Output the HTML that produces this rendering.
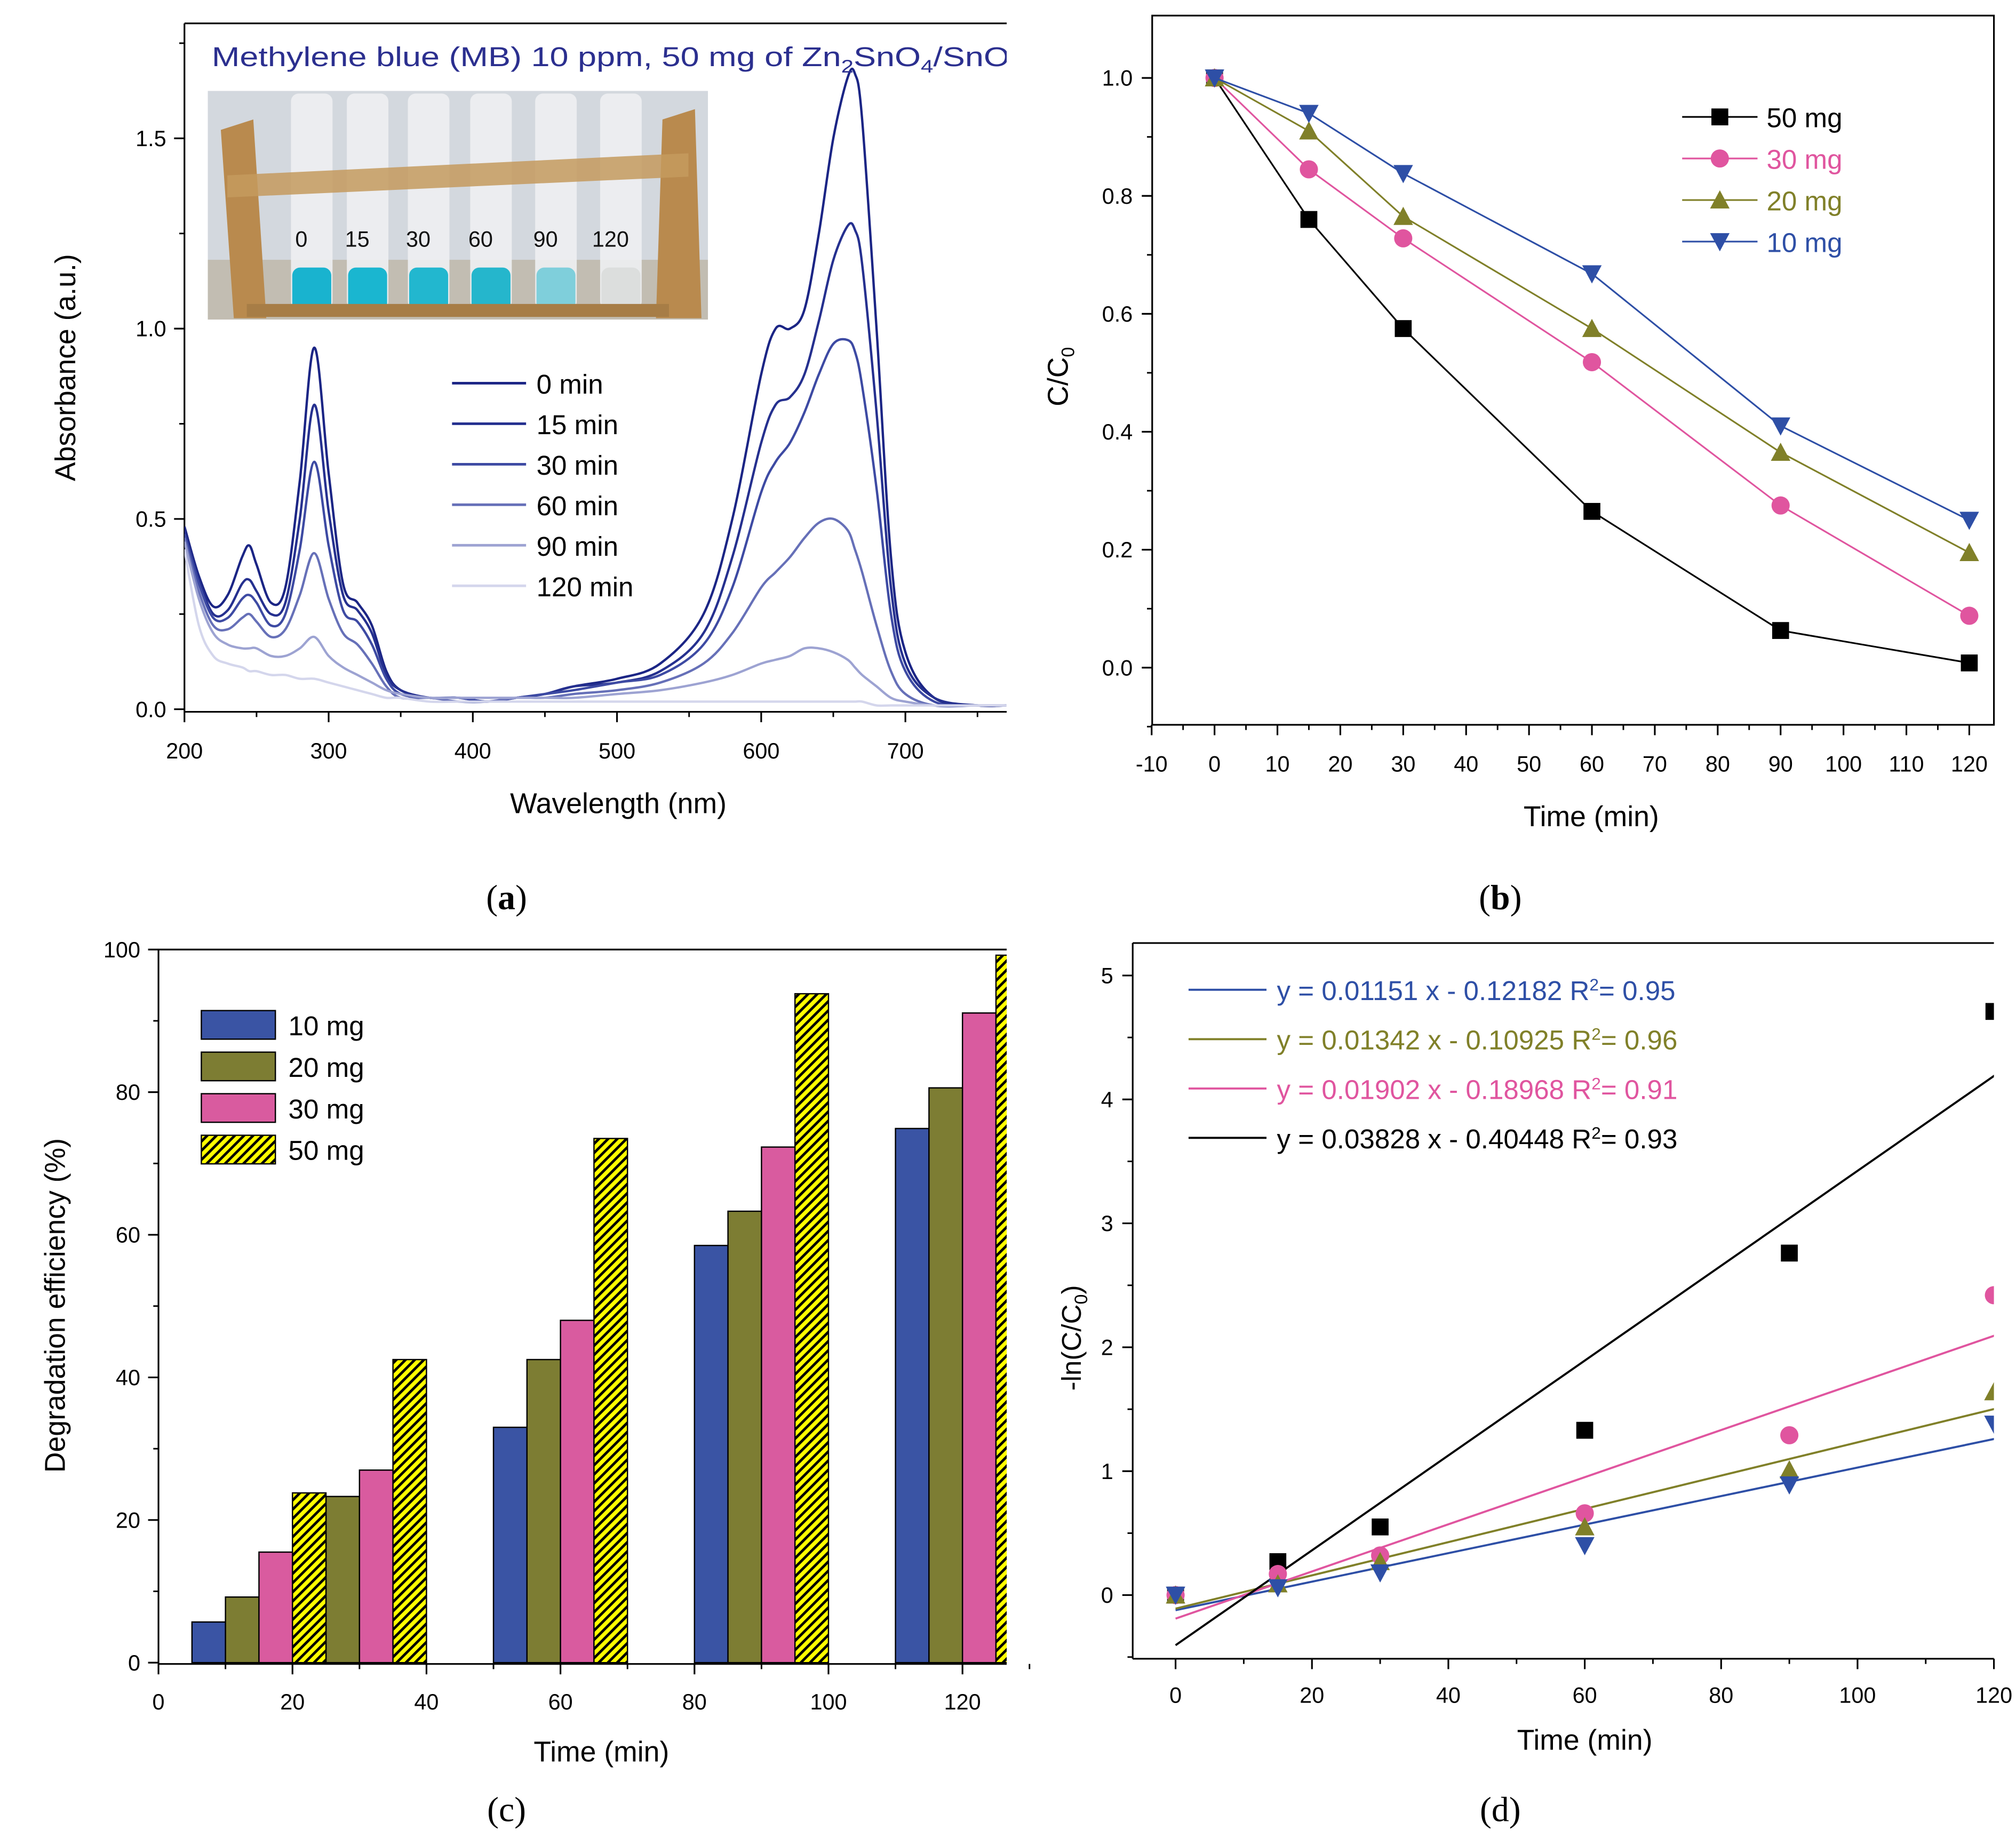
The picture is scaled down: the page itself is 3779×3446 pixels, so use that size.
<!DOCTYPE html>
<html><head><meta charset="utf-8">
<style>
html,body{margin:0;padding:0;background:#fff;}
svg{display:block;}
text{font-family:"Liberation Sans",Arial,sans-serif;}
.serif{font-family:"Liberation Serif",serif;}
</style></head>
<body>
<svg id="fig" xmlns="http://www.w3.org/2000/svg" width="3779" height="3446" viewBox="0 0 1552 1415" preserveAspectRatio="none">
<defs>
<pattern id="hatch" patternUnits="userSpaceOnUse" width="5" height="5" patternTransform="rotate(45)">
<rect width="5" height="5" fill="#ffff00"/><rect width="2" height="5" fill="#000"/>
</pattern>
<clipPath id="clipA"><rect x="142" y="18" width="633" height="530"/></clipPath>
<clipPath id="clipC"><rect x="122" y="731" width="653" height="550"/></clipPath>
<clipPath id="clipD"><rect x="872" y="726" width="663" height="551"/></clipPath>
<clipPath id="clipTitle"><rect x="142" y="18" width="633" height="60"/></clipPath>
</defs>
<g id="panelA"></g>
<g id="panelB"></g>
<g id="panelC"></g>
<g id="panelD"></g>
<text class="serif" x="390" y="700" font-size="27" text-anchor="middle">(<tspan font-weight="bold">a</tspan>)</text>
<text class="serif" x="1155" y="700" font-size="27" text-anchor="middle">(<tspan font-weight="bold">b</tspan>)</text>
<text class="serif" x="390" y="1402" font-size="27" text-anchor="middle">(c)</text>
<text class="serif" x="1155" y="1402" font-size="27" text-anchor="middle">(d)</text>
</svg>
<script>
// ---------- Panel A data ----------
const wl = [200,210,220,230,240,245,250,260,270,280,290,300,310,320,330,340,350,370,390,410,430,450,470,500,530,560,580,600,610,620,630,640,650,660,665,670,680,690,700,720,750,770];
const abs0 = [0.48,0.35,0.27,0.30,0.40,0.43,0.38,0.28,0.32,0.60,0.95,0.62,0.33,0.28,0.22,0.10,0.05,0.03,0.03,0.02,0.03,0.04,0.06,0.08,0.12,0.25,0.50,0.88,1.00,1.00,1.05,1.25,1.50,1.66,1.67,1.55,1.00,0.40,0.15,0.03,0.01,0.01];
const abs15 = [0.47,0.34,0.25,0.26,0.33,0.34,0.31,0.25,0.28,0.50,0.80,0.52,0.30,0.26,0.20,0.09,0.05,0.03,0.03,0.02,0.03,0.04,0.06,0.07,0.10,0.20,0.40,0.70,0.80,0.82,0.88,1.02,1.18,1.27,1.26,1.17,0.78,0.32,0.12,0.03,0.01,0.01];
const abs30 = [0.46,0.33,0.24,0.24,0.29,0.30,0.28,0.22,0.25,0.42,0.65,0.43,0.26,0.23,0.17,0.08,0.04,0.03,0.03,0.02,0.03,0.04,0.05,0.07,0.09,0.17,0.32,0.57,0.65,0.70,0.78,0.88,0.96,0.97,0.94,0.85,0.58,0.25,0.10,0.02,0.01,0.01];
const abs60 = [0.45,0.31,0.22,0.21,0.24,0.25,0.23,0.19,0.21,0.30,0.41,0.29,0.20,0.17,0.12,0.06,0.03,0.03,0.02,0.02,0.03,0.03,0.04,0.05,0.07,0.12,0.20,0.32,0.36,0.40,0.45,0.49,0.50,0.47,0.42,0.36,0.22,0.10,0.04,0.01,0.01,0.01];
const abs90 = [0.44,0.29,0.20,0.17,0.16,0.16,0.16,0.14,0.14,0.16,0.19,0.14,0.11,0.09,0.07,0.05,0.04,0.03,0.03,0.03,0.03,0.03,0.03,0.04,0.05,0.07,0.09,0.12,0.13,0.14,0.16,0.16,0.15,0.13,0.11,0.09,0.06,0.03,0.02,0.01,0.01,0.01];
const abs120 = [0.42,0.22,0.14,0.12,0.11,0.10,0.10,0.09,0.09,0.08,0.08,0.07,0.06,0.05,0.04,0.03,0.03,0.02,0.02,0.02,0.02,0.02,0.02,0.02,0.02,0.02,0.02,0.02,0.02,0.02,0.02,0.02,0.02,0.02,0.02,0.02,0.01,0.01,0.01,0.01,0.01,0.01];
const specLabels = ["0 min","15 min","30 min","60 min","90 min","120 min"];
const aXTicks = [200,300,400,500,600,700];
const aYTicks = [0.0,0.5,1.0,1.5];
const tubeLabels = ["0","15","30","60","90","120"];

// ---------- Panel B data ----------
const timesB = [0,15,30,60,90,120];
const cc50 = [1,0.76,0.575,0.265,0.063,0.008];
const cc30 = [1,0.845,0.728,0.518,0.275,0.088];
const cc20 = [1,0.91,0.765,0.575,0.365,0.195];
const cc10 = [1,0.94,0.838,0.668,0.41,0.25];
const bXTicks = [-10,0,10,20,30,40,50,60,70,80,90,100,110,120];
const bYTicks = [0.0,0.2,0.4,0.6,0.8,1.0];

// ---------- Panel C data ----------
const timesC = [15,30,60,90,120];
const eff10 = [5.7,16.2,33.0,58.5,74.9];
const eff20 = [9.2,23.3,42.5,63.3,80.6];
const eff30 = [15.5,27.0,48.0,72.3,91.1];
const eff50 = [23.8,42.5,73.5,93.8,99.2];
const cXTicks = [0,20,40,60,80,100,120];
const cYTicks = [0,20,40,60,80,100];

// ---------- Panel D data ----------
const timesD = [0,15,30,60,90,120];
const ln50 = [0,0.27,0.55,1.33,2.76,4.71];
const ln30 = [0,0.17,0.32,0.66,1.29,2.42];
const ln20 = [0,0.09,0.27,0.55,1.01,1.64];
const ln10 = [0,0.06,0.18,0.40,0.89,1.38];
const fitSlopes = [0.01151,0.01342,0.01902,0.03828];
const fitIntercepts = [-0.12182,-0.10925,-0.18968,-0.40448];
const fitR2 = ["0.95","0.96","0.91","0.93"];
const dXTicks = [0,20,40,60,80,100,120];
const dYTicks = [0,1,2,3,4,5];

const NS = "http://www.w3.org/2000/svg";
function mk(parent, tag, attrs, txt){
  const e = document.createElementNS(NS, tag);
  for (const k in attrs) e.setAttribute(k, attrs[k]);
  if (txt !== undefined) e.textContent = txt;
  parent.appendChild(e); return e;
}
function smooth(pts){
  let d = "M"+pts[0][0].toFixed(2)+","+pts[0][1].toFixed(2);
  for (let i=0;i<pts.length-1;i++){
    const p0=pts[Math.max(0,i-1)],p1=pts[i],p2=pts[i+1],p3=pts[Math.min(pts.length-1,i+2)];
    const c1=[p1[0]+(p2[0]-p0[0])/6,p1[1]+(p2[1]-p0[1])/6];
    const c2=[p2[0]-(p3[0]-p1[0])/6,p2[1]-(p3[1]-p1[1])/6];
    d+=" C"+c1[0].toFixed(2)+","+c1[1].toFixed(2)+" "+c2[0].toFixed(2)+","+c2[1].toFixed(2)+" "+p2[0].toFixed(2)+","+p2[1].toFixed(2);
  }
  return d;
}
function marker(g, shape, x, y, color, name){
  let e;
  const s=6.5;
  if (shape==="sq") e = mk(g,"rect",{x:x-s,y:y-s,width:2*s,height:2*s,fill:color});
  else if (shape==="ci") e = mk(g,"circle",{cx:x,cy:y,r:s+0.5,fill:color});
  else if (shape==="up") e = mk(g,"polygon",{points:`${x},${y-s-1} ${x-s-1},${y+s} ${x+s+1},${y+s}`,fill:color});
  else e = mk(g,"polygon",{points:`${x},${y+s+1} ${x-s-1},${y-s} ${x+s+1},${y-s}`,fill:color});
  
  
  return e;
}

// ================= PANEL A =================
(function(){
  const g = document.getElementById("panelA");
  const X = v => 142 + (v-200)*1.11;
  const Y = v => 546 - v*293;
  mk(g,"line",{x1:142,y1:18,x2:775,y2:18,stroke:"#000","stroke-width":1.3});
  mk(g,"line",{x1:142,y1:18,x2:142,y2:548,stroke:"#000","stroke-width":1.3});
  mk(g,"line",{x1:142,y1:548,x2:775,y2:548,stroke:"#000","stroke-width":1.3});
  for (const t of aXTicks){
    const tk = mk(g,"line",{x1:X(t),y1:548,x2:X(t),y2:556,stroke:"#000","stroke-width":1.3});
     
    mk(g,"line",{x1:X(t+50),y1:548,x2:X(t+50),y2:552,stroke:"#000","stroke-width":1.2});
    const lb = mk(g,"text",{x:X(t),y:584,"font-size":17,"text-anchor":"middle"},String(t));
     
  }
  for (const t of aYTicks){
    mk(g,"line",{x1:134,y1:Y(t),x2:142,y2:Y(t),stroke:"#000","stroke-width":1.3});
    mk(g,"line",{x1:138,y1:Y(t+0.25),x2:142,y2:Y(t+0.25),stroke:"#000","stroke-width":1.2});
    const lb = mk(g,"text",{x:128,y:Y(t)+6,"font-size":17,"text-anchor":"end"},t.toFixed(1));
     
  }
  let e = mk(g,"text",{x:476,y:626,"font-size":22,"text-anchor":"middle"},"Wavelength (nm)");
   
  e = mk(g,"text",{x:58,y:283,"font-size":22,"text-anchor":"middle",transform:"rotate(-90 58 283)"},"Absorbance (a.u.)");
   

  const series = [abs0,abs15,abs30,abs60,abs90,abs120];
  const colors = ["#1b2585","#25308f","#3d4aa3","#6670b8","#9da3d2","#d4d6ec"];
  const cg = mk(g,"g",{"clip-path":"url(#clipA)"});
  series.forEach((s,i)=>{
    const pts = wl.map((w,j)=>[X(w),Y(s[j])]);
    const p = mk(cg,"path",{d:smooth(pts),fill:"none",stroke:colors[i],"stroke-width":1.8});
    
    
  });
  specLabels.forEach((l,i)=>{
    const y = 295 + i*31.2;
    mk(g,"line",{x1:348,y1:y,x2:405,y2:y,stroke:colors[i],"stroke-width":2});
    const t = mk(g,"text",{x:413,y:y+8,"font-size":21},l);
     
  });
  const tg = mk(g,"g",{"clip-path":"url(#clipTitle)"});
  const tt = mk(tg,"text",{x:163,y:51,"font-size":21,fill:"#2b2f8f",textLength:624,lengthAdjust:"spacingAndGlyphs"});
   
  tt.innerHTML = 'Methylene blue (MB) 10 ppm, 50 mg of Zn<tspan baseline-shift="-5" font-size="14">2</tspan>SnO<tspan baseline-shift="-5" font-size="14">4</tspan>/SnO<tspan baseline-shift="-5" font-size="14">2</tspan>';
  const ph = mk(g,"g",{});
   
  mk(ph,"rect",{x:160,y:70,width:385,height:176,fill:"#d3d8de"});
  mk(ph,"rect",{x:160,y:200,width:385,height:46,fill:"#c2bdb2"});
  mk(ph,"polygon",{points:"170,100 195,92 205,245 180,245",fill:"#b98a4e"});
  mk(ph,"polygon",{points:"510,92 535,84 540,245 505,245",fill:"#b98a4e"});
  const tubeX=[240,283,330,378,428,478];
  const liq=["#19b3cf","#1ab6d0","#22b7cf","#25b6cc","#7fcfdb","#dcdedd"];
  tubeX.forEach((x,i)=>{
    mk(ph,"rect",{x:x-16,y:72,width:32,height:166,rx:6,fill:"#eef0f2",opacity:0.9});
    mk(ph,"rect",{x:x-15,y:206,width:30,height:34,rx:6,fill:liq[i]});
  });
  mk(ph,"polygon",{points:"175,135 530,118 530,136 175,152",fill:"#c49a5e",opacity:0.85});
  mk(ph,"rect",{x:190,y:234,width:325,height:10,fill:"#a77d46"});
  tubeX.forEach((x,i)=>{
    mk(ph,"text",{x:x-8,y:190,"font-size":17,"text-anchor":"middle",fill:"#111"},tubeLabels[i]);
  });
})();

// ================= PANEL B =================
(function(){
  const g = document.getElementById("panelB");
  const X = v => 935 + v*4.842;
  const Y = v => 514 - v*454;
  mk(g,"rect",{x:887,y:12,width:648,height:546,fill:"none",stroke:"#000","stroke-width":1.3});
  for (const t of bXTicks){
    mk(g,"line",{x1:X(t),y1:558,x2:X(t),y2:566,stroke:"#000","stroke-width":1.3});
    if (t<120) mk(g,"line",{x1:X(t+5),y1:558,x2:X(t+5),y2:562,stroke:"#000","stroke-width":1.2});
    const lb = mk(g,"text",{x:X(t),y:594,"font-size":17,"text-anchor":"middle"},String(t));
     
  }
  for (const t of bYTicks){
    mk(g,"line",{x1:879,y1:Y(t),x2:887,y2:Y(t),stroke:"#000","stroke-width":1.3});
    if (t<1) mk(g,"line",{x1:883,y1:Y(t+0.1),x2:887,y2:Y(t+0.1),stroke:"#000","stroke-width":1.2});
    const lb = mk(g,"text",{x:872,y:Y(t)+6,"font-size":17,"text-anchor":"end"},t.toFixed(1));
     
  }
  mk(g,"line",{x1:883,y1:Y(-0.1),x2:887,y2:Y(-0.1),stroke:"#000","stroke-width":1.2});
  let e = mk(g,"text",{x:1225,y:636,"font-size":22,"text-anchor":"middle"},"Time (min)");
   
  e = mk(g,"text",{x:822,y:290,"font-size":22,"text-anchor":"middle",transform:"rotate(-90 822 290)"});
  e.innerHTML='C/C<tspan baseline-shift="-5" font-size="14">0</tspan>';
   
  const series=[cc50,cc30,cc20,cc10], cols=["#000","#e0559f","#808029","#2e4fa6"], shapes=["sq","ci","up","dn"], labs=["50 mg","30 mg","20 mg","10 mg"];
  series.forEach((s,i)=>{
    const p = mk(g,"polyline",{points:timesB.map((t,j)=>X(t)+","+Y(s[j])).join(" "),fill:"none",stroke:cols[i],"stroke-width":1.3});
     
    timesB.forEach((t,j)=>marker(g,shapes[i],X(t),Y(s[j]),cols[i],'point-'+labs[i].replace(' ','')));
    const y = 90 + i*32;
    mk(g,"line",{x1:1295,y1:y,x2:1353,y2:y,stroke:cols[i],"stroke-width":1.3});
    marker(g,shapes[i],1324,y,cols[i],'legend-marker');
    const t = mk(g,"text",{x:1360,y:y+8,"font-size":21,fill:cols[i]},labs[i]);
     
  });
})();

// ================= PANEL C =================
(function(){
  const g = document.getElementById("panelC");
  const X = v => 122 + v*5.158;
  const Y = v => 1280 - v*5.49;
  const bw = 5;
  const series=[eff10,eff20,eff30,eff50], fills=["#3a54a4","#7d7d33","#d95b9f","url(#hatch)"], labs=["10 mg","20 mg","30 mg","50 mg"];
  const cg = mk(g,"g",{"clip-path":"url(#clipC)"});
  series.forEach((s,i)=>{
    timesC.forEach((t,j)=>{
      const x0 = X(t-2*bw+i*bw), x1 = X(t-bw+i*bw);
      const r = mk(cg,"rect",{x:x0,y:Y(s[j]),width:x1-x0,height:Y(0)-Y(s[j]),fill:fills[i],stroke:"#000","stroke-width":1});
       
    });
  });
  mk(g,"line",{x1:122,y1:731,x2:775,y2:731,stroke:"#000","stroke-width":1.3});
  mk(g,"line",{x1:122,y1:731,x2:122,y2:1281,stroke:"#000","stroke-width":1.3});
  mk(g,"line",{x1:122,y1:1281,x2:775,y2:1281,stroke:"#000","stroke-width":1.3});
  for (const t of cXTicks){
    mk(g,"line",{x1:X(t),y1:1281,x2:X(t),y2:1289,stroke:"#000","stroke-width":1.3});
    mk(g,"line",{x1:X(t+10),y1:1281,x2:X(t+10),y2:1285,stroke:"#000","stroke-width":1.2});
    const lb = mk(g,"text",{x:X(t),y:1316,"font-size":17,"text-anchor":"middle"},String(t));
     
  }
  for (const t of cYTicks){
    mk(g,"line",{x1:114,y1:Y(t),x2:122,y2:Y(t),stroke:"#000","stroke-width":1.3});
    if (t<100) mk(g,"line",{x1:118,y1:Y(t+10),x2:122,y2:Y(t+10),stroke:"#000","stroke-width":1.2});
    const lb = mk(g,"text",{x:108,y:Y(t)+6,"font-size":17,"text-anchor":"end"},String(t));
     
  }
  let e = mk(g,"text",{x:463,y:1356,"font-size":22,"text-anchor":"middle"},"Time (min)");
   
  e = mk(g,"text",{x:50,y:1005,"font-size":22,"text-anchor":"middle",transform:"rotate(-90 50 1005)"},"Degradation efficiency (%)");
   
  labs.forEach((l,i)=>{
    const y = 778 + i*32;
    mk(g,"rect",{x:155,y:y,width:57,height:22,fill:fills[i],stroke:"#000","stroke-width":1});
    const t = mk(g,"text",{x:222,y:y+19,"font-size":21},l);
     
  });
})();

// ================= PANEL D =================
(function(){
  const g = document.getElementById("panelD");
  const X = v => 905 + v*5.25;
  const Y = v => 1228 - v*95.4;
  mk(g,"line",{x1:872,y1:726,x2:1535,y2:726,stroke:"#000","stroke-width":1.3});
  mk(g,"line",{x1:872,y1:726,x2:872,y2:1277,stroke:"#000","stroke-width":1.3});
  mk(g,"line",{x1:872,y1:1277,x2:1535,y2:1277,stroke:"#000","stroke-width":1.3});
  for (const t of dXTicks){
    mk(g,"line",{x1:X(t),y1:1277,x2:X(t),y2:1285,stroke:"#000","stroke-width":1.3});
    mk(g,"line",{x1:X(t+10),y1:1277,x2:X(t+10),y2:1281,stroke:"#000","stroke-width":1.2});
    const lb = mk(g,"text",{x:X(t),y:1311,"font-size":17,"text-anchor":"middle"},String(t));
     
  }
  for (const t of dYTicks){
    mk(g,"line",{x1:864,y1:Y(t),x2:872,y2:Y(t),stroke:"#000","stroke-width":1.3});
    mk(g,"line",{x1:868,y1:Y(t-0.5),x2:872,y2:Y(t-0.5),stroke:"#000","stroke-width":1.2});
    const lb = mk(g,"text",{x:857,y:Y(t)+6,"font-size":17,"text-anchor":"end"},String(t));
     
  }
  let e = mk(g,"text",{x:1220,y:1347,"font-size":22,"text-anchor":"middle"},"Time (min)");
   
  e = mk(g,"text",{x:832,y:1030,"font-size":21,"text-anchor":"middle",transform:"rotate(-90 832 1030)"});
  e.innerHTML='-ln(C/C<tspan baseline-shift="-5" font-size="14">0</tspan>)';
   
  const cols=["#2e4fa6","#808029","#e0559f","#000"], shapes=["dn","up","ci","sq"], labs=["10mg","20mg","30mg","50mg"];
  const series=[ln10,ln20,ln30,ln50];
  const cg = mk(g,"g",{"clip-path":"url(#clipD)"});
  series.forEach((s,i)=>{
    const x0=0, x1=125;
    const l = mk(cg,"line",{x1:X(x0),y1:Y(fitSlopes[i]*x0+fitIntercepts[i]),x2:X(x1),y2:Y(fitSlopes[i]*x1+fitIntercepts[i]),stroke:cols[i],"stroke-width":1.6});
     
  });
  [3,2,1,0].forEach(i=>{
    timesD.forEach((t,j)=>marker(cg,shapes[i],X(t),Y(series[i][j]),cols[i],'point-'+labs[i]));
  });
  for (let i=0;i<4;i++){
    const y = 762 + i*38;
    mk(g,"line",{x1:915,y1:y,x2:975,y2:y,stroke:cols[i],"stroke-width":1.6});
    const t = mk(g,"text",{x:983,y:y+8,"font-size":21,fill:cols[i]});
    t.innerHTML = 'y = '+fitSlopes[i]+' x - '+Math.abs(fitIntercepts[i]).toFixed(5)+' R<tspan baseline-shift="super" font-size="13">2</tspan>= '+fitR2[i];
     
  }
})();
</script>
</body></html>
